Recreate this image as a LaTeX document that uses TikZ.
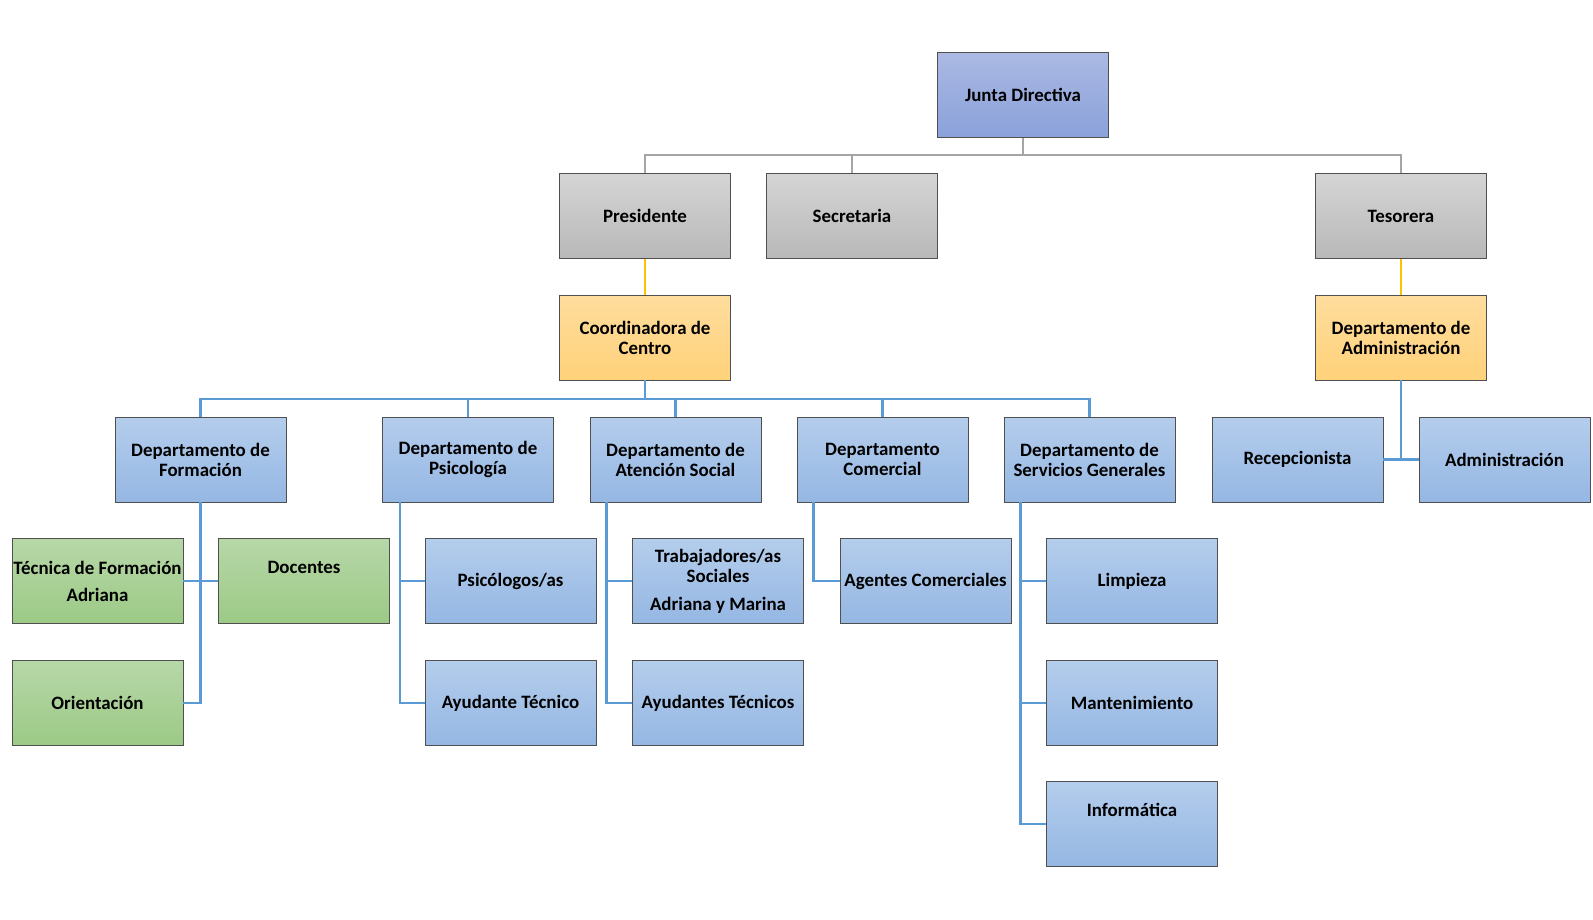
\documentclass[tikz,border=0pt]{standalone}
\usepackage{fontspec}
\setmainfont{Carlito}
\definecolor{blueT}{RGB}{180,205,236}
\definecolor{blueB}{RGB}{149,183,227}
\definecolor{grayT}{RGB}{213,213,213}
\definecolor{grayB}{RGB}{184,184,184}
\definecolor{yelT}{RGB}{255,221,158}
\definecolor{yelB}{RGB}{255,210,122}
\definecolor{greT}{RGB}{183,215,168}
\definecolor{greB}{RGB}{156,202,134}
\definecolor{junT}{RGB}{171,185,227}
\definecolor{junB}{RGB}{138,161,218}
\definecolor{bdr}{RGB}{80,80,80}
\definecolor{lgray}{RGB}{165,165,165}
\definecolor{lyel}{RGB}{255,192,0}
\definecolor{lblue}{RGB}{91,155,213}
\tikzset{
  box/.style={draw=bdr, line width=0.8pt, minimum width=171pt, minimum height=85pt,
    inner sep=0pt, align=center, font=\fontsize{18.9}{20}\selectfont\bfseries},
  bluebox/.style={box, top color=blueT, bottom color=blueB},
  graybox/.style={box, top color=grayT, bottom color=grayB},
  yelbox/.style={box, top color=yelT, bottom color=yelB},
  grebox/.style={box, top color=greT, bottom color=greB},
  junbox/.style={box, top color=junT, bottom color=junB},
  gline/.style={draw=lgray, line width=2.2pt},
  yline/.style={draw=lyel, line width=2.2pt},
  bline/.style={draw=lblue, line width=2.4pt},
}
\begin{document}
\begin{tikzpicture}[x=1pt,y=-1pt]
\useasboundingbox (0,0) rectangle (1593,919);
\node[junbox] (junta) at (1023,95) {Junta Directiva};
\node[graybox] (pres) at (645,216) {Presidente};
\node[graybox] (sec) at (852,216) {Secretaria};
\node[graybox] (tes) at (1401,216) {Tesorera};
\node[yelbox] (coord) at (645,337.5) {Coordinadora de\\Centro};
\node[yelbox] (dadm) at (1401,337.5) {Departamento de\\Administración};
\node[bluebox] (form) at (200.5,459.5) {Departamento de\\Formación};
\node[bluebox] (psi) at (468,459.5) {Departamento de\\Psicología};
\node[bluebox] (aten) at (675.5,459.5) {Departamento de\\Atención Social};
\node[bluebox] (com) at (882.5,459.5) {Departamento\\Comercial};
\node[bluebox] (serv) at (1089.5,459.5) {Departamento de\\Servicios Generales};
\node[bluebox] (recep) at (1297.5,459.5) {Recepcionista};
\node[bluebox] (admin) at (1504.5,459.5) {Administración};
\node[grebox] (tec) at (97.5,581) {Técnica de Formación\\[7pt]Adriana};
\node[grebox] (doc) at (304,581) {Docentes\\[8pt]\mbox{}};
\node[bluebox] (psic) at (510.5,581) {Psicólogos/as};
\node[bluebox] (trab) at (718,581) {Trabajadores/as\\Sociales\\[8pt]Adriana y Marina};
\node[bluebox] (agen) at (925.5,581) {Agentes Comerciales};
\node[bluebox] (limp) at (1132,581) {Limpieza};
\node[grebox] (ori) at (97.5,703) {Orientación};
\node[bluebox] (ayu) at (510.5,703) {Ayudante Técnico};
\node[bluebox] (ayus) at (718,703) {Ayudantes Técnicos};
\node[bluebox] (mant) at (1132,703) {Mantenimiento};
\node[bluebox] (inf) at (1132,824) {Informática\\[8pt]\mbox{}};
% gray bus
\coordinate (gbus) at (1023,155);
\draw[gline] (junta.south) -- (gbus);
\draw[gline] (gbus) -| (pres.north);
\draw[gline] (gbus) -| (sec.north);
\draw[gline] (gbus) -| (tes.north);
% yellow
\draw[yline] (pres.south) -- (coord.north);
\draw[yline] (tes.south) -- (dadm.north);
% blue bus
\coordinate (bbus) at (645,399);
\draw[bline] (coord.south) -- (bbus);
\draw[bline] (bbus) -| (form.north);
\draw[bline] (bbus) -| (psi.north);
\draw[bline] (bbus) -| (aten.north);
\draw[bline] (bbus) -| (com.north);
\draw[bline] (bbus) -| (serv.north);
% admin
\draw[bline] (dadm.south) |- (recep.east);
\draw[bline] (dadm.south) |- (admin.west);
% formacion
\draw[bline] (form.south) |- (tec.east);
\draw[bline] (form.south) |- (doc.west);
\draw[bline] (form.south) |- (ori.east);
% psicologia
\draw[bline] ([xshift=18pt]psi.south west) |- (psic.west);
\draw[bline] ([xshift=18pt]psi.south west) |- (ayu.west);
% atencion
\draw[bline] ([xshift=17pt]aten.south west) |- (trab.west);
\draw[bline] ([xshift=17pt]aten.south west) |- (ayus.west);
% comercial
\draw[bline] ([xshift=17pt]com.south west) |- (agen.west);
% servicios
\draw[bline] ([xshift=17pt]serv.south west) |- (limp.west);
\draw[bline] ([xshift=17pt]serv.south west) |- (mant.west);
\draw[bline] ([xshift=17pt]serv.south west) |- (inf.west);
\end{tikzpicture}
\end{document}
